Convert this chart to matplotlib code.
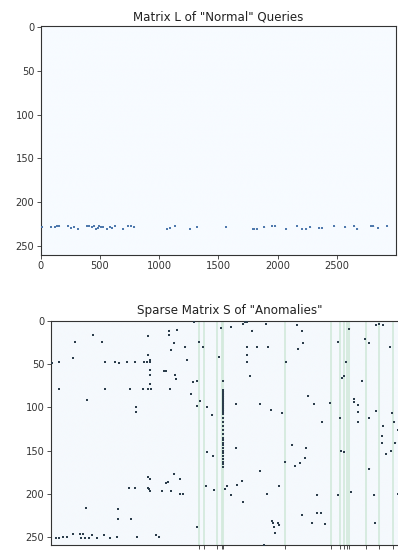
import matplotlib; matplotlib.use("Agg")
import matplotlib.pyplot as plt, numpy as np
from matplotlib.colors import LinearSegmentedColormap

# matrix shape (queries x features)
n_rows, n_cols = 260, 3000

# non-zero entries of the low-rank part L (one band of rows)
l_cols = [8, 87, 121, 141, 158, 234, 256, 282, 312, 388, 411, 431, 453, 470, 481,
          495, 512, 526, 557, 586, 600, 628, 698, 735, 763, 791, 1064, 1092, 1134,
          1261, 1317, 1565, 1788, 1804, 1824, 1889, 1951, 1979, 2072, 2162, 2204,
          2241, 2275, 2353, 2373, 2477, 2570, 2646, 2674, 2790, 2809, 2846, 2922]
l_rows = [228, 228, 228, 227, 227, 227, 229, 228, 230, 227, 227, 228, 227, 230, 229,
          227, 228, 228, 230, 228, 229, 227, 230, 227, 227, 228, 230, 229, 227,
          230, 228, 228, 230, 230, 230, 228, 227, 227, 230, 227, 230,
          230, 228, 229, 229, 227, 228, 227, 230, 227, 227, 229, 227]

# scattered non-zero entries of the sparse part S
s_rows = [49, 48, 79, 24, 43, 91, 16, 24, 48, 79, 48, 49, 48, 79, 48, 100, 105, 79, 48, 48,
          39, 45, 48, 79, 79, 57, 62, 73, 17, 58, 58, 11, 16, 79, 33, 25, 62, 67, 10, 30,
          45, 84, 71, 98, 70, 1, 24, 93, 30, 100, 109, 42, 8, 69, 7, 4, 1, 1, 30, 39,
          48, 64, 11, 30, 96, 4, 30, 103, 107, 47, 5, 32, 12, 26, 87, 96, 117, 95, 24, 112,
          66, 64, 9, 47, 69, 90, 94, 97, 105, 21, 26, 5, 4, 5, 30, 117, 104, 112, 133, 121,
          106, 117, 126,
          96, 147, 152, 156, 143, 168, 164, 159, 147, 163, 151, 152, 202, 141, 154, 151, 141,
          200, 198, 201, 201, 200, 191, 174,
          181, 183, 193, 195, 197, 193, 193, 187, 186, 197, 177, 183, 200, 200, 197, 218, 229,
          229, 216, 251, 251, 250, 250, 247, 247, 247, 251, 251, 251, 248, 251, 248, 251, 250,
          250, 248, 250, 239, 191, 196, 195, 191, 202, 190, 185, 209, 231, 234, 239, 234, 236,
          245, 259, 225, 234, 222, 222, 235, 234, 171]
s_cols = [14, 70, 70, 204, 184, 301, 354, 427, 457, 457, 538, 575, 636, 664, 708, 717, 717, 775, 781, 809,
          814, 831, 831, 814, 837, 834, 834, 834, 814, 951, 962, 993, 993, 996, 1010, 1035, 1038, 1046, 1057, 1127,
          1143, 1174, 1188, 1222, 1227, 1202, 1236, 1247, 1272, 1305, 1353, 1406, 1422, 1445, 1509, 1612, 1629, 1640, 1640, 1640,
          1640, 1668, 1687, 1724, 1751, 1802, 1818, 1841, 1938, 1969, 2058, 2072, 2103, 2106, 2156, 2200, 2270, 2334, 2404, 2421,
          2435, 2449, 2499, 2468, 2602, 2538, 2538, 2569, 2569, 2633, 2661, 2722, 2744, 2778, 2839, 2569, 2722, 2661, 2767, 2778,
          2853, 2873, 2909,
          1551, 1553, 1305, 1361, 2022, 2042, 2086, 2128, 2136, 1963, 2426, 2449, 2708, 2767, 2806, 2845, 2884,
          2901, 2510, 2401, 2231, 1807, 1908, 1751,
          814, 831, 814, 823, 831, 658, 708, 962, 979, 1004, 1035, 1079, 1079, 1104, 932, 561, 672,
          561, 296, 42, 73, 100, 134, 184, 248, 273, 251, 287, 324, 346, 385, 443, 496, 558,
          722, 884, 909, 1222, 1300, 1367, 1461, 1478, 1509, 1556, 1604, 1606, 1849, 1857, 1869, 1897, 1913,
          1874, 1782, 2103, 2189, 2226, 2259, 2295, 2711, 2666]

# one feature column that is anomalous for a whole run of queries
streak_col = 1445
streak_rows = [80, 82, 84, 86, 88, 90, 92, 94, 96, 98, 100, 102, 104, 106, 108, 112,
               117, 121, 126, 131, 135, 138, 141, 144, 147, 150, 153, 156, 160, 163, 166, 169]

# columns with a weak anomaly over every query
weak_cols = [1244, 1280, 1394, 1436, 1445, 1961, 2346, 2421, 2449, 2477, 2499, 2636, 2750, 2859]

L = np.zeros((n_rows, n_cols)); L[l_rows, l_cols] = 1.0
S = np.zeros((n_rows, n_cols)); S[:, weak_cols] = 0.08
S[s_rows, s_cols] = 1.0; S[streak_rows, streak_col] = 1.0

s_cmap = LinearSegmentedColormap.from_list("s", ["#f5f9fd", "#d6ebdf", "#2b3d4b"], N=256)

fig = plt.figure(figsize=(3.98, 5.58), dpi=100)
ax1 = fig.add_axes([0.1023, 0.5436, 0.8927, 0.4093])
ax2 = fig.add_axes([0.1274, 0.0230, 0.9010, 0.4025])

# L: image plus a marker per non-zero cell so single cells stay visible
ax1.imshow(L, cmap="Blues", aspect="auto", vmin=0, vmax=1, interpolation="antialiased")
r, c = np.nonzero(L)
ax1.scatter(c, r, s=0.9, marker="s", color="#4f79ad", linewidths=0, zorder=3)
ax1.set_xlim(-0.5, n_cols - 0.5); ax1.set_ylim(n_rows - 0.5, -0.5)
ax1.set_title('Matrix L of "Normal" Queries', fontsize=8.6, pad=4.5, color="#222")

# S: same idea, weak columns drawn as thin lines
ax2.imshow(S, cmap=s_cmap, aspect="auto", vmin=0, vmax=1, interpolation="antialiased")
for wc in weak_cols:
    ax2.axvline(wc, color="#d4eadd", linewidth=1.3, zorder=1)
r, c = np.nonzero(S > 0.5)
ax2.scatter(c, r, s=1.1, marker="s", color="#2b3d4b", linewidths=0, zorder=3)
ax2.set_xlim(-0.5, n_cols - 0.5); ax2.set_ylim(n_rows - 0.5, -0.5)
ax2.set_title('Sparse Matrix S of "Anomalies"', fontsize=8.6, pad=4.5, color="#222")
ax2.set_xticks(weak_cols)
ax2.set_xticklabels([str(v) for v in weak_cols], rotation=90)

for ax in (ax1, ax2):
    ax.set_yticks([0, 50, 100, 150, 200, 250])
    ax.tick_params(labelsize=7.1, length=2.6, width=0.6, colors="#333", pad=2)
    for sp in ax.spines.values():
        sp.set_color("#333"); sp.set_linewidth(0.8)
ax2.tick_params(axis="x", pad=5.5)

fig.savefig("out.png", dpi=100)
